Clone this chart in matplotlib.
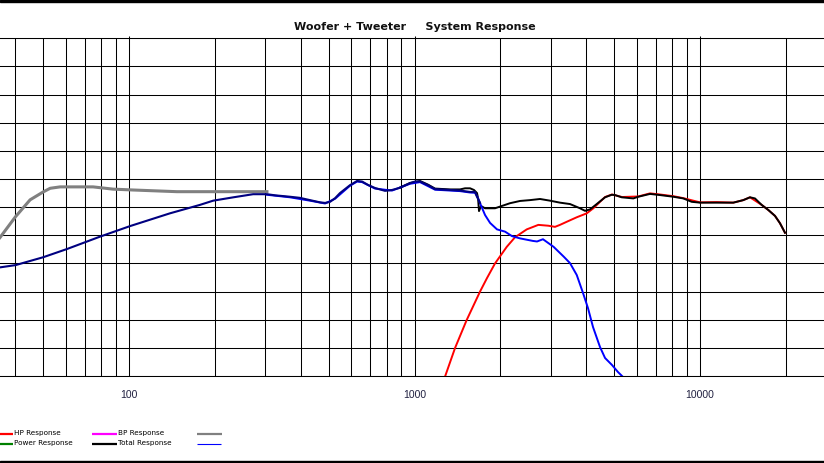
import matplotlib
matplotlib.use("Agg")
import matplotlib.pyplot as plt
from matplotlib.patches import Rectangle
from matplotlib.ticker import FixedLocator, NullFormatter, FixedFormatter

# ---------------- data (frequency in Hz, level in dB) ----------------
gray_f = [35.3, 40, 45, 50, 52.9, 57.3, 74.8, 87.9, 103, 147, 304]
gray_db = [64.6, 68.3, 71.3, 72.7, 73.35, 73.6, 73.6, 73.2, 73.05, 72.75, 72.75]

navy_f = [35.3, 40, 50, 60.5, 79, 101, 139, 177, 197, 232, 272, 304, 325, 366, 397, 430,
          467, 486, 506, 527, 548, 594, 629, 655, 687, 727, 788, 834, 890, 964, 1004,
          1045, 1115, 1180, 1331, 1443, 1565, 1629, 1655, 1696]
navy_db = [59.3, 59.7, 61.1, 62.55, 64.75, 66.65, 68.9, 70.4, 71.15, 71.75, 72.3, 72.3,
           72.1, 71.85, 71.65, 71.25, 70.85, 70.75, 70.95, 71.6, 72.5, 73.9, 74.65,
           74.55, 73.95, 73.4, 72.9, 73.05, 73.45, 74.25, 74.55, 74.55, 73.9, 73.2,
           73.05, 72.95, 72.7, 72.7, 71.85, 70.75]

lp_f = [304, 366, 430, 486, 527, 594, 629, 655, 727, 834, 964, 1045, 1180, 1331,
        1443, 1565, 1629, 1669, 1696, 1766, 1839, 1945, 2075, 2195, 2342, 2597, 2686,
        2818, 3070, 3332, 3505, 3700, 3892, 4052, 4219, 4464, 4649, 4918, 5161, 5331]
lp_db = [72.2, 71.75, 71.15, 70.65, 71.5, 73.8, 74.55, 74.45, 73.3, 72.95, 74.15,
         74.45, 73.1, 72.95, 72.85, 72.6, 72.55, 71.6, 70.7, 68.6, 67.2, 66.05, 65.65,
         64.85, 64.45, 64.0, 63.9, 64.3, 62.95, 61.2, 60.05, 57.95, 54.75, 52.05, 48.7,
         45.15, 43.2, 41.95, 40.7, 40.0]

hp_f = [1279, 1387, 1523, 1696, 1794, 1914, 2104, 2249, 2472, 2714, 2943, 3105, 3232,
        3413, 3700, 4010, 4230, 4464, 4649, 4918, 5331, 6080, 6682, 7243, 8062, 8740,
        10000, 11441, 13081, 14178, 14966, 16444, 17346, 18309, 19061, 19853]
hp_db = [39.9, 45.0, 49.95, 55.0, 57.4, 60.0, 62.95, 64.65, 66.05, 66.85, 66.7, 66.5,
         66.85, 67.4, 68.2, 68.9, 69.8, 70.95, 71.8, 72.25, 71.8, 71.9, 72.45, 72.25,
         71.95, 71.6, 70.85, 70.9, 70.8, 71.25, 71.75, 70.4, 69.5, 68.45, 67.15, 65.45]

total_f = [890, 964, 1045, 1115, 1180, 1331, 1443, 1503, 1565, 1615, 1655, 1669, 1682,
           1710, 1766, 1914, 1993, 2160, 2342, 2538, 2752, 2983, 3232, 3505, 3799, 3955,
           4118, 4347, 4649, 4906, 5038, 5318, 5839, 6080, 6682, 7243, 8062, 8740, 9352,
           10000, 11441, 13081, 14178, 14966, 15581, 16444, 17346, 18309, 19061, 19853]
total_db = [73.5, 74.3, 74.65, 74.0, 73.3, 73.15, 73.15, 73.35, 73.35, 73.05, 72.5, 71.6,
            69.3, 70.2, 69.8, 69.8, 70.1, 70.7, 71.1, 71.25, 71.45, 71.15, 70.8, 70.55,
            69.8, 69.35, 69.6, 70.55, 71.75, 72.2, 72.15, 71.75, 71.55, 71.85, 72.35,
            72.15, 71.85, 71.55, 70.95, 70.8, 70.8, 70.8, 71.25, 71.75, 71.55, 70.4, 69.5,
            68.45, 67.15, 65.45]

major_ticks = [100, 1000, 10000]
major_labels = ["100", "1000", "10000"]
minor_ticks = [40, 50, 60, 70, 80, 90, 200, 300, 400, 500, 600, 700, 800, 900,
               2000, 3000, 4000, 5000, 6000, 7000, 8000, 9000, 20000]
y_grid = [40, 45, 50, 55, 60, 65, 70, 75, 80, 85, 90, 95, 100]

title = "Woofer + Tweeter     System Response"
legend_rows = [("HP Response", "#ff0000"), ("Power Response", "#008000")]
legend_rows2 = [("BP Response", "#ff00ff"), ("Total Response", "#000000")]

# ---------------- figure ----------------
W, H = 824, 463
fig = plt.figure(figsize=(W / 100, H / 100), dpi=100)
fig.patch.set_facecolor("white")

top_px, bot_px = 38.3, 376.0
ax = fig.add_axes([0, 1 - bot_px / H, 1, (bot_px - top_px) / H])
ax.set_xscale("log")
ax.set_xlim(35.3, 27190)
ax.set_ylim(40, 100)

ax.xaxis.set_major_locator(FixedLocator(major_ticks))
ax.xaxis.set_major_formatter(FixedFormatter(major_labels))
ax.xaxis.set_minor_locator(FixedLocator(minor_ticks))
ax.xaxis.set_minor_formatter(NullFormatter())
ax.yaxis.set_major_locator(FixedLocator(y_grid))
ax.tick_params(axis="y", left=False, labelleft=False)
ax.tick_params(axis="x", which="major", bottom=False, top=True, direction="out",
               length=1.8, width=0.75, labelbottom=True, labeltop=False, pad=8.5,
               labelsize=7.5, labelcolor="#202040")
ax.tick_params(axis="x", which="minor", bottom=False, top=False)
for lbl in ax.get_xticklabels():
    lbl.set_fontfamily("Liberation Sans")

ax.grid(True, which="major", axis="both", color="black", linewidth=0.75)
ax.grid(True, which="minor", axis="x", color="black", linewidth=0.75)
ax.set_axisbelow(True)
for s in ["left", "right"]:
    ax.spines[s].set_visible(False)
for s in ["top", "bottom"]:
    ax.spines[s].set_linewidth(0.75)

ax.plot(gray_f, gray_db, color="#808080", linewidth=2.2, zorder=3)
ax.plot(hp_f, hp_db, color="#ff0000", linewidth=1.4, zorder=4)
ax.plot(total_f, total_db, color="#000000", linewidth=1.4, zorder=5)
ax.plot(lp_f, lp_db, color="#0000ff", linewidth=1.4, zorder=6)
ax.plot(navy_f, navy_db, color="#000080", linewidth=1.5, zorder=7)

# title
fig.text(415 / W, 1 - 30 / H, title, ha="center", va="baseline",
         fontsize=8, fontweight="bold", family="DejaVu Sans", color="#111111")

# legend overlay in pixel coordinates
lax = fig.add_axes([0, 0, 1, 1])
lax.set_xlim(0, W)
lax.set_ylim(H, 0)
lax.axis("off")
rows_y = [433.5, 443.5]
for (lab, col), y in zip(legend_rows, rows_y):
    lax.plot([0, 13], [y, y], color=col, linewidth=1.6, solid_capstyle="butt")
    lax.text(14, y, lab, fontsize=5.2, family="DejaVu Sans", va="center", ha="left")
for (lab, col), y in zip(legend_rows2, rows_y):
    lax.plot([91.7, 116.7], [y, y], color=col, linewidth=1.6, solid_capstyle="butt")
    lax.text(118, y, lab, fontsize=5.2, family="DejaVu Sans", va="center", ha="left")
lax.plot([196.7, 221.7], [rows_y[0], rows_y[0]], color="#808080", linewidth=1.6,
         solid_capstyle="butt")
lax.plot([196.7, 220.7], [rows_y[1], rows_y[1]], color="#0000ff", linewidth=0.8,
         solid_capstyle="butt")

# thick frame bands at top and bottom
fig.add_artist(Rectangle((0, 1 - 2 / H), 1, 2 / H, transform=fig.transFigure,
                         color="black", zorder=10))
fig.add_artist(Rectangle((0, 0), 1, 2.5 / H, transform=fig.transFigure,
                         color="black", zorder=10))

fig.savefig("out.png", dpi=100)
